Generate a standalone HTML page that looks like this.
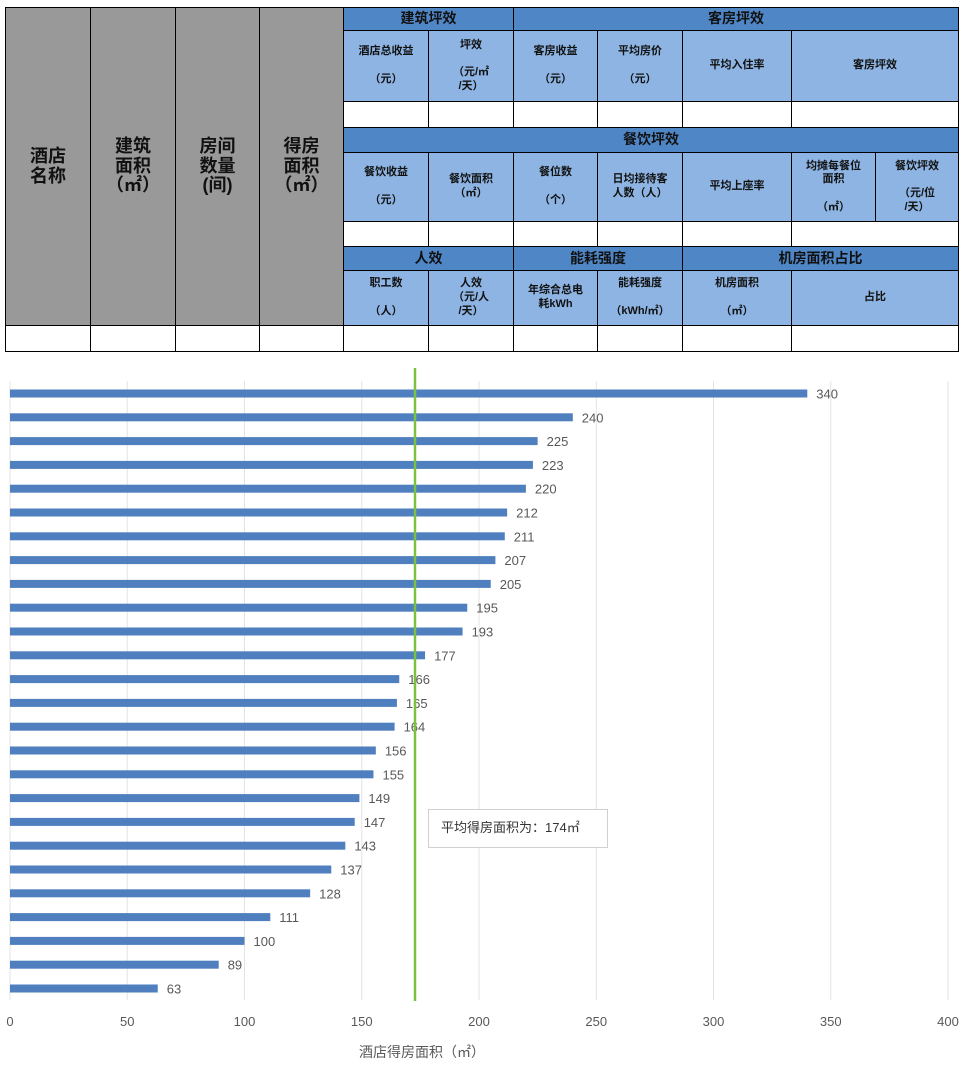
<!DOCTYPE html>
<html><head><meta charset="utf-8">
<style>
body{margin:0;width:969px;height:1068px;background:#fff;position:relative;overflow:hidden;font-family:"Liberation Sans","Noto Sans CJK SC",sans-serif;}
.c{position:absolute;box-sizing:border-box;border:1px solid #000;display:flex;align-items:center;justify-content:center;text-align:center;font-weight:bold;color:#111;line-height:1.25;}
.g{background:#999;font-size:18px;line-height:1.1}
.h{background:#4f86c6;font-size:14px}
.s{background:#8db4e2;font-size:11px;flex-direction:column}
.w{background:#fff}
.a{position:absolute;}
.lbl{position:absolute;font-size:13px;color:#595959;}
</style></head><body>
<div id="t"></div>
<svg class="a" style="left:0;top:0" width="969" height="1068" id="ch"></svg>
<script>
var T=document.getElementById('t'),h='';
function cell(x1,y1,x2,y2,cls,txt){h+='<div class="c '+cls+'" style="left:'+x1+'px;top:'+y1+'px;width:'+(x2-x1+1)+'px;height:'+(y2-y1+1)+'px">'+(txt||'')+'</div>';}
var gc=[5,90,175,259,343],gt=['酒店<br>名称','建筑<br>面积<br>（㎡）','房间<br>数量<br>(间)','得房<br>面积<br>（㎡）'];
for(var i=0;i<4;i++){cell(gc[i],7,gc[i+1],325,'g',gt[i]);cell(gc[i],325,gc[i+1],351,'w');}
cell(343,7,513,30,'h','建筑坪效');cell(513,7,958,30,'h','客房坪效');
var r6=[343,428,513,597,682,791,958];
var t2=['酒店总收益<br><br>（元）','坪效<br><br>（元/㎡<br>/天）','客房收益<br><br>（元）','平均房价<br><br>（元）','平均入住率','客房坪效'];
for(i=0;i<6;i++){cell(r6[i],30,r6[i+1],101,'s',t2[i]);cell(r6[i],101,r6[i+1],127,'w');cell(r6[i],221,r6[i+1],246,'w');cell(r6[i],325,r6[i+1],351,'w');}
cell(343,127,958,152,'h','餐饮坪效');
var r7=[343,428,513,597,682,791,875,958];
var t5=['餐饮收益<br><br>（元）','餐饮面积<br>（㎡）','餐位数<br><br>（个）','日均接待客<br>人数（人）','平均上座率','均摊每餐位<br>面积<br><br>（㎡）','餐饮坪效<br><br>（元/位<br>/天）'];
for(i=0;i<7;i++)cell(r7[i],152,r7[i+1],221,'s',t5[i]);
cell(343,246,513,270,'h','人效');cell(513,246,682,270,'h','能耗强度');cell(682,246,958,270,'h','机房面积占比');
var t8=['职工数<br><br>（人）','人效<br>（元/人<br>/天）','年综合总电<br>耗kWh','能耗强度<br><br>（kWh/㎡）','机房面积<br><br>（㎡）','占比'];
for(i=0;i<6;i++)cell(r6[i],270,r6[i+1],325,'s',t8[i]);
T.innerHTML=h;
var v=[340,240,225,223,220,212,211,207,205,195,193,177,166,165,164,156,155,149,147,143,137,128,111,100,89,63];
var s='',X=function(u){return 10+u*2.345;};
for(i=0;i<=8;i++){var x=X(i*50);s+='<line x1="'+x+'" y1="381" x2="'+x+'" y2="1000" stroke="#e3e3e3" stroke-width="1"/>';
s+='<text x="'+x+'" y="1026" font-size="13" fill="#595959" text-anchor="middle">'+(i*50)+'</text>';}
for(i=0;i<26;i++){var y=393.5+i*23.8;s+='<rect x="10" y="'+(y-4)+'" width="'+(v[i]*2.345)+'" height="8" fill="#4f7fbe"/>';
s+='<text x="'+(X(v[i])+9)+'" y="'+(y+5)+'" font-size="13" fill="#595959">'+v[i]+'</text>';}
s+='<line x1="415" y1="368" x2="415" y2="1001" stroke="#7cc242" stroke-width="2.5"/>';
s+='<rect x="428.5" y="809.5" width="179" height="38" fill="#fff" stroke="#d0d0d0"/>';
s+='<text x="441" y="832" font-size="13" fill="#333">平均得房面积为：174㎡</text>';
s+='<text x="422" y="1057" font-size="14" fill="#595959" text-anchor="middle">酒店得房面积（㎡）</text>';
document.getElementById('ch').innerHTML=s;
</script>
</body></html>
